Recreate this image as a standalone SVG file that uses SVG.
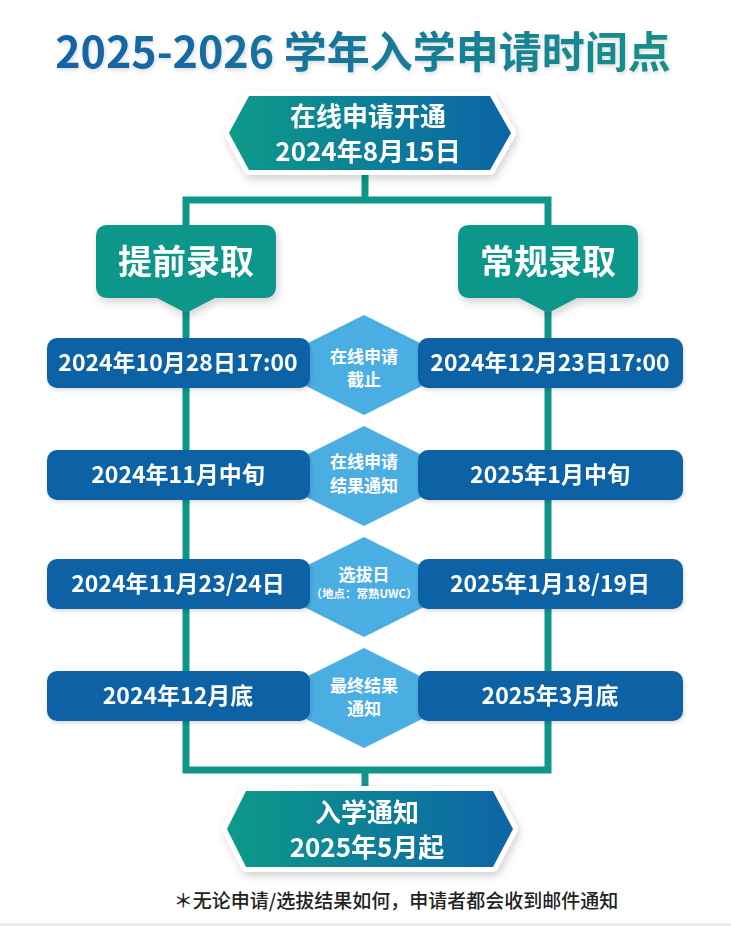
<svg xmlns="http://www.w3.org/2000/svg" width="731" height="926" viewBox="0 0 731 926">
<defs>
<linearGradient id="gTitle" x1="0" y1="0" x2="1" y2="0">
<stop offset="0" stop-color="#1361a8"/>
<stop offset="1" stop-color="#16908a"/>
</linearGradient>
<linearGradient id="gHex" x1="0" y1="0" x2="1" y2="0">
<stop offset="0" stop-color="#0a9a8a"/>
<stop offset="1" stop-color="#0b64a6"/>
</linearGradient>
<filter id="sh" x="-20%" y="-30%" width="140%" height="170%">
<feDropShadow dx="2" dy="4" stdDeviation="4" flood-color="#000" flood-opacity="0.18"/>
</filter>
<filter id="shs" x="-20%" y="-30%" width="140%" height="170%">
<feDropShadow dx="1" dy="2" stdDeviation="2" flood-color="#000" flood-opacity="0.15"/>
</filter>
</defs>
<style>
text{font-family:"Noto Sans CJK SC","Noto Sans",sans-serif;font-weight:bold;text-anchor:middle;fill:#fff}
.title{font-size:43px;fill:url(#gTitle)}
.hex{fill:url(#gHex);stroke:#fff;stroke-width:10;stroke-linejoin:round;paint-order:stroke}
.hx{font-size:26px}
.team{fill:#0a968a}
.tt{font-size:34px}
.row{fill:#0b62a5}
.rt{font-size:23px}
.dia{fill:#4baee2}
.dt{font-size:17px}
.ds{font-size:11.5px}
.line{fill:none;stroke:#0e9688;stroke-width:7}
.note{font-size:19px;font-weight:500;fill:#222}
</style>
<rect x="0" y="0" width="731" height="926" fill="#fff"/>
<rect x="0" y="923" width="731" height="3" fill="#ececec"/>
<text id="title" class="title" x="363" y="68" filter="url(#shs)">2025-2026 学年入学申请时间点</text>
<g id="connectors">
<path class="line" d="M365,168 V200"/>
<path class="line" d="M186,200 H548 V770 H186 Z"/>
<path class="line" d="M365,770 V795"/>
</g>
<g id="start" filter="url(#sh)">
<polygon class="hex" points="229,133 249,96 490,96 511,133 490,170 249,170"/>
<text class="hx" x="368" y="126">在线申请开通<tspan x="368" dy="35">2024年8月15日</tspan></text>
</g>
<g id="early" filter="url(#sh)">
<path class="team" d="M108,225 H264 Q276,225 276,237 V286 Q276,298 264,298 H215 L186,313 L157,298 H108 Q96,298 96,286 V237 Q96,225 108,225 Z"/>
<text class="tt" x="186" y="274">提前录取</text>
</g>
<g id="regular" filter="url(#sh)">
<path class="team" d="M470,225 H626 Q638,225 638,237 V286 Q638,298 626,298 H577 L548,313 L519,298 H470 Q458,298 458,286 V237 Q458,225 470,225 Z"/>
<text class="tt" x="548" y="274">常规录取</text>
</g>
<g id="d1">
<polygon class="dia" points="364,315 464,365 364,415 264,365"/>
<text class="dt" x="364" y="363">在线申请<tspan x="364" dy="23">截止</tspan></text>
</g>
<g id="d2">
<polygon class="dia" points="364,426 464,476 364,526 264,476"/>
<text class="dt" x="364" y="468">在线申请<tspan x="364" dy="24">结果通知</tspan></text>
</g>
<g id="d3">
<polygon class="dia" points="364,537 464,587 364,637 264,587"/>
<text class="dt" x="364" y="581">选拔日<tspan class="ds" x="364" dy="17">（地点：常熟UWC）</tspan></text>
</g>
<g id="d4">
<polygon class="dia" points="364,648 464,698 364,748 264,698"/>
<text class="dt" x="364" y="692">最终结果<tspan x="364" dy="23">通知</tspan></text>
</g>
<g id="r1l" filter="url(#shs)"><rect class="row" x="47" y="338" width="263" height="50" rx="10"/><text class="rt" x="178" y="371">2024年10月28日17:00</text></g>
<g id="r1r" filter="url(#shs)"><rect class="row" x="418" y="338" width="265" height="50" rx="10"/><text class="rt" x="550" y="371">2024年12月23日17:00</text></g>
<g id="r2l" filter="url(#shs)"><rect class="row" x="47" y="450" width="263" height="50" rx="10"/><text class="rt" x="178" y="483">2024年11月中旬</text></g>
<g id="r2r" filter="url(#shs)"><rect class="row" x="418" y="450" width="265" height="50" rx="10"/><text class="rt" x="550" y="483">2025年1月中旬</text></g>
<g id="r3l" filter="url(#shs)"><rect class="row" x="47" y="559" width="263" height="50" rx="10"/><text class="rt" x="178" y="592">2024年11月23/24日</text></g>
<g id="r3r" filter="url(#shs)"><rect class="row" x="418" y="559" width="265" height="50" rx="10"/><text class="rt" x="550" y="592">2025年1月18/19日</text></g>
<g id="r4l" filter="url(#shs)"><rect class="row" x="47" y="671" width="263" height="50" rx="10"/><text class="rt" x="178" y="704">2024年12月底</text></g>
<g id="r4r" filter="url(#shs)"><rect class="row" x="418" y="671" width="265" height="50" rx="10"/><text class="rt" x="550" y="704">2025年3月底</text></g>
<g id="end" filter="url(#sh)">
<polygon class="hex" points="227,829 246,791 493,791 513,829 493,867 246,867"/>
<text class="hx" x="367" y="822">入学通知<tspan x="367" dy="35">2025年5月起</tspan></text>
</g>
<text id="note" class="note" x="396" y="908">＊无论申请/选拔结果如何，申请者都会收到邮件通知</text>
</svg>
